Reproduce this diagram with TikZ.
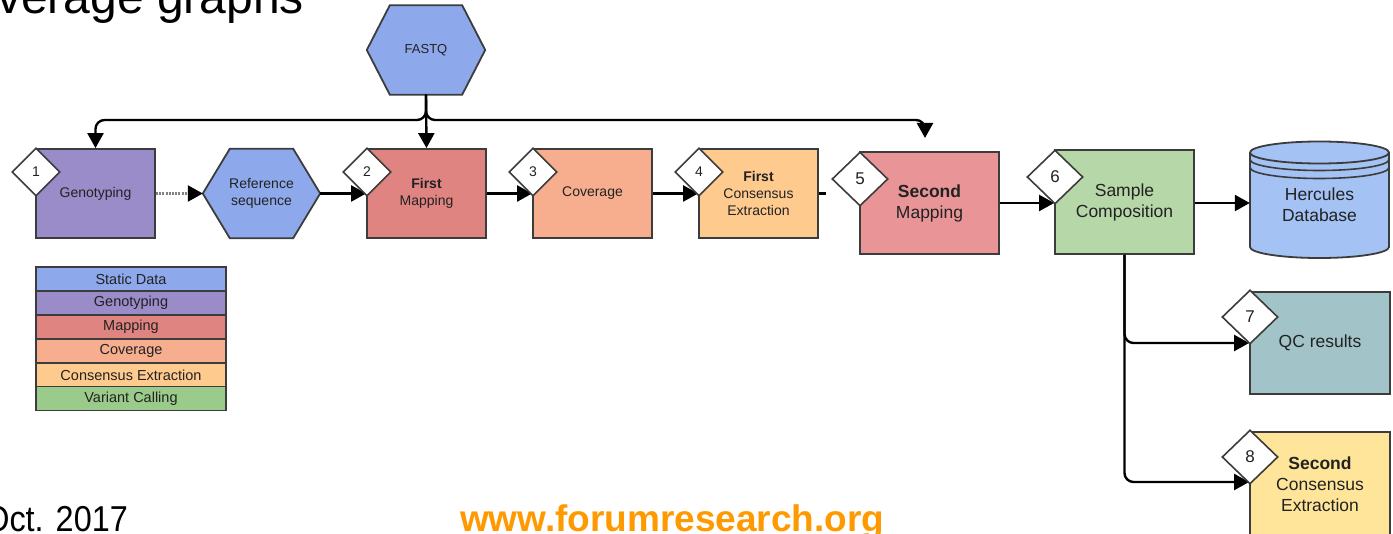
\documentclass[tikz,border=0pt]{standalone}
\usepackage{fontspec}
\setmainfont{Liberation Sans}
\usetikzlibrary{shapes.geometric,arrows.meta,calc,backgrounds}
\definecolor{cstatic}{HTML}{8DA9EC}
\definecolor{cgeno}{HTML}{9A8BC9}
\definecolor{cmap}{HTML}{E08481}
\definecolor{cmaptwo}{HTML}{E99598}
\definecolor{ccov}{HTML}{F6AE8E}
\definecolor{ccons}{HTML}{FFCA8E}
\definecolor{csample}{HTML}{B6D7A8}
\definecolor{cdb}{HTML}{A4C2F4}
\definecolor{cqc}{HTML}{A2C4C9}
\definecolor{cconstwo}{HTML}{FFE599}
\definecolor{cvar}{HTML}{9BCB8A}
\definecolor{cborder}{HTML}{3C3C3C}
\definecolor{corange}{HTML}{FF9900}
\definecolor{ctext}{HTML}{222222}
\tikzset{
  box/.style={rectangle, draw=cborder, line width=1.8pt, text=ctext, align=center, inner sep=0pt, font=\fontsize{14}{17}\selectfont},
  bigbox/.style={box, font=\fontsize{17.5}{21}\selectfont},
  num/.style={diamond, draw=cborder, fill=white, line width=1.6pt, minimum width=48pt, minimum height=48pt, inner sep=0pt, text=ctext, font=\fontsize{14}{16}\selectfont},
  bignum/.style={num, minimum width=56pt, minimum height=54pt, font=\fontsize{17}{19}\selectfont},
  legend/.style={rectangle, draw=cborder, line width=1.6pt, minimum width=190pt, minimum height=24pt, inner sep=0pt, text=ctext, font=\fontsize{14.5}{16}\selectfont},
  hexfill/.style={fill=cstatic, draw=cborder, line width=1.8pt},
  conn/.style={line width=2.4pt, draw=black},
  tip/.style={-{Triangle[length=15pt,width=16pt,color=black]}},
  arr/.style={conn, tip},
}
\begin{document}
\begin{tikzpicture}[x=1pt,y=-1pt]
\useasboundingbox (0,0) rectangle (1393,534);
\clip (0,0) rectangle (1393,534);

% title and footer
\node[anchor=base west, inner sep=0pt, font=\fontsize{48}{52}\selectfont] (title) at (-3,14) {verage graphs};
\node[anchor=base east, inner sep=0pt, xscale=0.9, font=\fontsize{36}{38}\selectfont] (date) at (128,531) {Oct. 2017};
\node[anchor=base west, inner sep=0pt, text=corange, font=\bfseries\fontsize{37}{40}\selectfont] (url) at (460,531) {www.forumresearch.org};

% hexagons (static data)
\node[minimum width=118pt, minimum height=89pt, inner sep=0pt, font=\fontsize{13}{15}\selectfont, text=ctext] (fastq) at (426,50) {FASTQ};
\node[minimum width=117pt, minimum height=89pt, inner sep=0pt, align=center, font=\fontsize{14}{17}\selectfont, text=ctext] (ref) at (261.5,193.5) {Reference\\sequence};
\begin{scope}[on background layer]
\draw[hexfill] (fastq.west) -- ([xshift=23pt]fastq.north west) -- ([xshift=-23pt]fastq.north east) -- (fastq.east) -- ([xshift=-23pt]fastq.south east) -- ([xshift=23pt]fastq.south west) -- cycle;
\draw[hexfill] (ref.west) -- ([xshift=27pt]ref.north west) -- ([xshift=-27pt]ref.north east) -- (ref.east) -- ([xshift=-27pt]ref.south east) -- ([xshift=27pt]ref.south west) -- cycle;
\end{scope}

% process boxes
\node[box, fill=cgeno, minimum width=119pt, minimum height=89pt] (geno) at (95.5,193.5) {Genotyping};
\node[box, fill=cmap, minimum width=119pt, minimum height=89pt] (map1) at (426.5,193.5) {\textbf{First}\\Mapping};
\node[box, fill=ccov, minimum width=119pt, minimum height=89pt] (cov) at (592.5,193.5) {Coverage};
\node[box, fill=ccons, minimum width=119pt, minimum height=89pt] (fce) at (758.5,193.5) {\textbf{First}\\Consensus\\Extraction};
\node[bigbox, fill=cmaptwo, minimum width=139pt, minimum height=102pt] (map2) at (929.5,203) {\textbf{Second}\\Mapping};
\node[bigbox, fill=csample, minimum width=139pt, minimum height=104pt] (sc) at (1124.5,202) {Sample\\Composition};
\node[bigbox, fill=cqc, minimum width=140pt, minimum height=102pt] (qc) at (1320,343) {QC results};
\node[bigbox, fill=cconstwo, minimum width=140pt, minimum height=104pt] (sce) at (1320,484) {\textbf{Second}\\Consensus\\Extraction};

% database cylinder
\node[minimum width=139pt, minimum height=116pt, inner sep=0pt, align=center, text=ctext, font=\fontsize{17.5}{21}\selectfont] (db) at (1319.5,205) {Hercules\\Database};
\begin{scope}[on background layer]
\filldraw[fill=cdb, draw=cborder, line width=1.8pt] (1250,152.5) -- (1250,247) arc[start angle=180, end angle=0, x radius=69.5, y radius=11] -- (1389,152.5) arc[start angle=0, end angle=-180, x radius=69.5, y radius=11] -- cycle;
\draw[draw=cborder, line width=1.8pt] (1250,152.5) arc[start angle=180, end angle=0, x radius=69.5, y radius=11];
\draw[draw=cborder, line width=1.6pt] (1250,159.5) arc[start angle=180, end angle=0, x radius=69.5, y radius=11];
\draw[draw=cborder, line width=1.6pt] (1250,167.5) arc[start angle=180, end angle=0, x radius=69.5, y radius=11];
\end{scope}

% connectors
\coordinate (split) at (426,120);
\coordinate (m2tip) at (925,138);
\coordinate (stub) at (826,193.5);
\draw[arr, rounded corners=9pt] (fastq.south) -- (split) -| (geno.north);
\draw[arr, rounded corners=9pt] (fastq.south) -- (split) -| (m2tip);
\draw[arr] (fastq.south) -- (map1.north);
\draw[line width=2.4pt, draw=gray, dash pattern=on 2pt off 1.2pt, tip] (geno.east) -- (ref.west);
\draw[arr] (ref.east) -- (map1.west);
\draw[arr] (map1.east) -- (cov.west);
\draw[arr] (cov.east) -- (fce.west);
\draw[conn] (fce.east) -- (stub);
\draw[arr] (map2.east) -- (sc.west |- map2.east);
\draw[arr] (sc.east |- map2.east) -- (db.west |- map2.east);
\draw[arr, rounded corners=9pt] (sc.south) |- (qc.west);
\draw[arr, rounded corners=9pt] (sc.south) |- (sce.west |- 0,482);

% step numbers
\node[num] (n1) at (36,172) {1};
\node[num] (n2) at (367,172) {2};
\node[num] (n3) at (533,172) {3};
\node[num] (n4) at (699,172) {4};
\node[bignum] (n5) at (860,179) {5};
\node[bignum] (n6) at (1055,177) {6};
\node[bignum] (n7) at (1250,317) {7};
\node[bignum] (n8) at (1250,457) {8};

% legend
\node[legend, fill=cstatic] (l1) at (131,279) {Static Data};
\node[legend, fill=cgeno] (l2) at (131,303) {Genotyping};
\node[legend, fill=cmap] (l3) at (131,327) {Mapping};
\node[legend, fill=ccov] (l4) at (131,351) {Coverage};
\node[legend, fill=ccons] (l5) at (131,375) {Consensus Extraction};
\node[legend, fill=cvar] (l6) at (131,398.5) {Variant Calling};
\end{tikzpicture}
\end{document}
